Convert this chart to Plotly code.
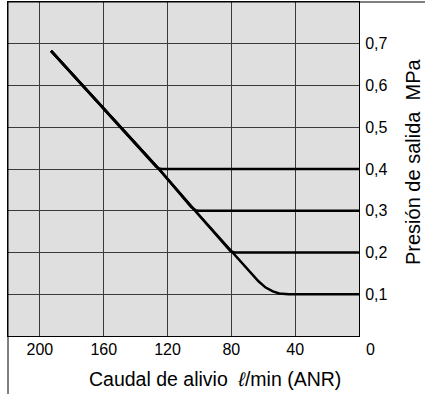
import plotly.graph_objects as go

# Data (relief flow l/min vs set outlet pressure MPa)
flow_04 = [193, 128.5, 127.0, 125.5, 123.5, 0]
pres_04 = [0.683, 0.410, 0.4045, 0.4015, 0.400, 0.400]

flow_03 = [193, 125.4, 105.2, 103.8, 102.3, 100.5, 0]
pres_03 = [0.683, 0.400, 0.309, 0.304, 0.301, 0.300, 0.300]

flow_02 = [193, 125.4, 102.7, 82.2, 80.8, 79.3, 77.5, 0]
pres_02 = [0.683, 0.400, 0.300, 0.209, 0.204, 0.201, 0.200, 0.200]

flow_01 = [193, 125.4, 102.7, 79.4, 70, 63, 58.5, 54, 50, 47, 44, 0]
pres_01 = [0.683, 0.400, 0.300, 0.200, 0.160, 0.131, 0.116, 0.107, 0.102, 0.1004, 0.100, 0.100]

x_ticks = [200, 160, 120, 80, 40]
y_ticks = [0.1, 0.2, 0.3, 0.4, 0.5, 0.6, 0.7]
x_title = "Caudal de alivio\u00a0\u00a0<i>\u2113</i>/min (ANR)"
y_title = "Presión de salida\u00a0\u00a0MPa"

FONT = "Liberation Sans, Arial, Helvetica, sans-serif"

W, H = 425, 394
ML, MR, MT, MB = 8, 66, 2, 58
PW, PH = W - ML - MR, H - MT - MB

fig = go.Figure()
for fx, py in [(flow_01, pres_01), (flow_02, pres_02), (flow_03, pres_03), (flow_04, pres_04)]:
    fig.add_trace(go.Scatter(x=fx, y=py, mode="lines",
                             line=dict(color="black", width=2.5),
                             hoverinfo="skip", showlegend=False))

fig.update_layout(
    width=W, height=H,
    margin=dict(l=ML, r=MR, t=MT, b=MB, pad=0),
    paper_bgcolor="white",
    plot_bgcolor="#dfdfdf",
    separators=",.",
    font=dict(family=FONT, color="black"),
    showlegend=False,
)

fig.update_xaxes(
    range=[220, 0],
    tickvals=x_ticks,
    ticks="", ticklen=0,
    ticklabelstandoff=-1,
    tickfont=dict(size=16, family=FONT, color="black"),
    showgrid=True, gridcolor="#3a3a3a", gridwidth=1,
    showline=True, linecolor="black", linewidth=1, mirror=True,
    zeroline=False,
    automargin=False,
)
fig.update_yaxes(
    range=[0, 0.8],
    side="right",
    tickvals=y_ticks,
    tickformat=".1f",
    ticks="", ticklen=0,
    ticklabelstandoff=2,
    tickfont=dict(size=16, family=FONT, color="black"),
    showgrid=True, gridcolor="#3a3a3a", gridwidth=1,
    showline=True, linecolor="black", linewidth=1, mirror=True,
    zeroline=False,
    automargin=False,
)

# axis titles placed as annotations (offset from plot centre as in the reference)
fig.add_annotation(x=(215 - ML) / PW, y=(MT + PH - 379) / PH, xref="paper", yref="paper",
                   text=x_title, showarrow=False, xanchor="center", yanchor="middle",
                   font=dict(size=19.5, family=FONT, color="black"))
fig.add_annotation(x=(413 - ML) / PW, y=(MT + PH - 161) / PH, xref="paper", yref="paper",
                   text=y_title, showarrow=False, textangle=-90,
                   xanchor="center", yanchor="middle",
                   font=dict(size=20, family=FONT, color="black"))

# lone "0" corner label
fig.add_annotation(x=0, y=0, xref="x", yref="paper", text="0", showarrow=False,
                   xanchor="center", yanchor="top", xshift=11, yshift=-3,
                   font=dict(size=16, family=FONT, color="black"))

# outer frame lines (top and left) extending beyond the plot area
fig.add_shape(type="line", xref="paper", yref="paper",
              x0=0, x1=1 + MR / PW, y0=1, y1=1, line=dict(color="black", width=1))
fig.add_shape(type="line", xref="paper", yref="paper",
              x0=0, x1=0, y0=-MB / PH, y1=1, line=dict(color="black", width=1))

fig.write_html("out.html")
